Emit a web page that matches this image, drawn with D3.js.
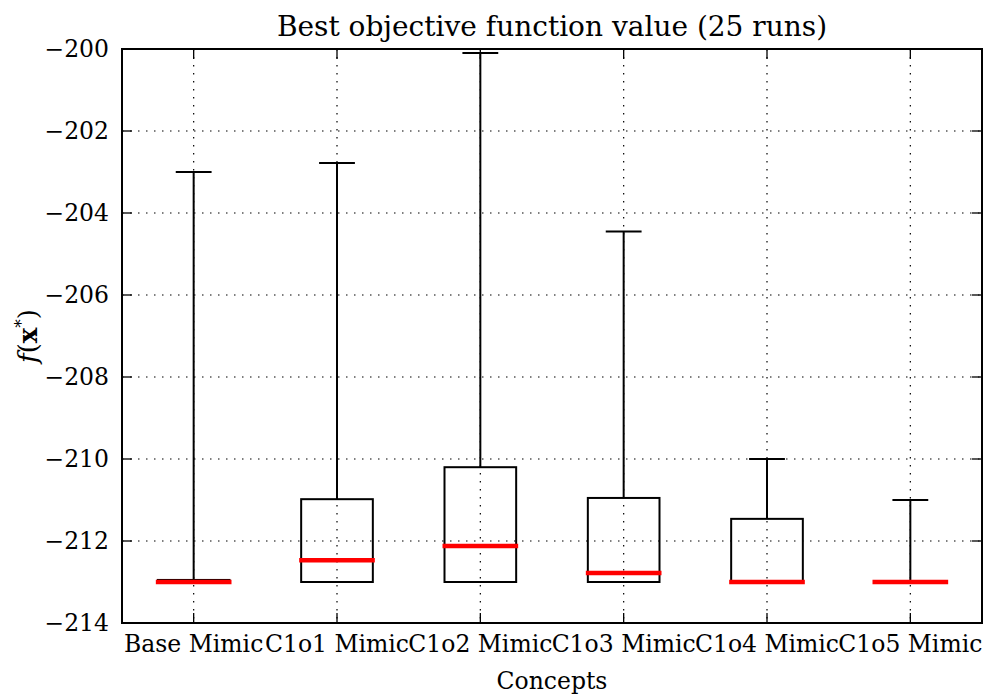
<!DOCTYPE html>
<html><head><meta charset="utf-8">
<script src="https://cdn.jsdelivr.net/npm/d3@7"></script>
<style>body{margin:0;background:#fff}svg{display:block}</style>
</head><body>
<svg id="c" width="985" height="696"></svg>
<script>
const categories = ["Base Mimic","C1o1 Mimic","C1o2 Mimic","C1o3 Mimic","C1o4 Mimic","C1o5 Mimic"];
const whiskerLow  = [-213.0, -213.0, -213.0, -213.0, -213.0, -213.0];
const q1          = [-213.0, -213.0, -213.0, -213.0, -213.0, -213.0];
const median      = [-213.0, -212.47, -212.12, -212.78, -213.0, -213.0];
const q3          = [-212.95, -210.98, -210.2, -210.95, -211.46, -213.0];
const whiskerHigh = [-203.0, -202.78, -200.1, -204.45, -210.0, -211.0];
const yTicks = [-214,-212,-210,-208,-206,-204,-202,-200];

const svg = d3.select("#c");
const m = {l:122, r:982, t:49, b:623};
const font = "'DejaVu Serif', 'Liberation Serif', serif";

const x = d3.scaleLinear().domain([0.5, categories.length + 0.5]).range([m.l, m.r]);
const y = d3.scaleLinear().domain([-214, -200]).range([m.b, m.t]);
const step = x(2) - x(1);
const boxW = step * 0.5, capW = step * 0.25;
const idx = categories.map((d,i)=>i+1);

// grid
const g = svg.append("g");
g.selectAll(".gy").data(yTicks).join("line")
  .attr("x1", m.l).attr("x2", m.r).attr("y1", d=>y(d)).attr("y2", d=>y(d))
  .attr("stroke","#000").attr("stroke-width",1.2).attr("stroke-dasharray","1.5,6.5");
g.selectAll(".gx").data(idx).join("line")
  .attr("x1", d=>x(d)).attr("x2", d=>x(d)).attr("y1", m.t).attr("y2", m.b)
  .attr("stroke","#000").attr("stroke-width",1.2).attr("stroke-dasharray","1.5,6.5");

// boxes
const data = categories.map((c,i)=>({c, i:i+1, lo:whiskerLow[i], q1:q1[i], med:median[i], q3:q3[i], hi:whiskerHigh[i]}));
const bx = svg.append("g");
data.forEach(d=>{
  const cx = x(d.i);
  bx.append("line").attr("x1",cx).attr("x2",cx).attr("y1",y(d.q3)).attr("y2",y(d.hi)).attr("stroke","#000").attr("stroke-width",2);
  bx.append("line").attr("x1",cx-capW/2).attr("x2",cx+capW/2).attr("y1",y(d.hi)).attr("y2",y(d.hi)).attr("stroke","#000").attr("stroke-width",2);
  bx.append("line").attr("x1",cx).attr("x2",cx).attr("y1",y(d.q1)).attr("y2",y(d.lo)).attr("stroke","#000").attr("stroke-width",2);
  bx.append("line").attr("x1",cx-capW/2).attr("x2",cx+capW/2).attr("y1",y(d.lo)).attr("y2",y(d.lo)).attr("stroke","#000").attr("stroke-width",2);
  if (d.q3 > d.q1) {
    bx.append("rect").attr("x",cx-boxW/2).attr("width",boxW).attr("y",y(d.q3)).attr("height",y(d.q1)-y(d.q3))
      .attr("fill","none").attr("stroke","#000").attr("stroke-width",2);
  }
  bx.append("line").attr("x1",cx-boxW/2-2).attr("x2",cx+boxW/2+2).attr("y1",y(d.med)).attr("y2",y(d.med))
    .attr("stroke","#ff0000").attr("stroke-width",4.5);
});

// frame
svg.append("rect").attr("x",m.l).attr("y",m.t).attr("width",m.r-m.l).attr("height",m.b-m.t)
  .attr("fill","none").attr("stroke","#000").attr("stroke-width",2);

// ticks (inward, all sides)
const tl = 10;
const tk = svg.append("g").attr("stroke","#000").attr("stroke-width",1.3);
yTicks.forEach(v=>{
  tk.append("line").attr("x1",m.l).attr("x2",m.l+tl).attr("y1",y(v)).attr("y2",y(v));
  tk.append("line").attr("x1",m.r).attr("x2",m.r-tl).attr("y1",y(v)).attr("y2",y(v));
});
idx.forEach(v=>{
  tk.append("line").attr("x1",x(v)).attr("x2",x(v)).attr("y1",m.b).attr("y2",m.b-tl);
  tk.append("line").attr("x1",x(v)).attr("x2",x(v)).attr("y1",m.t).attr("y2",m.t+tl);
});

// tick labels
svg.append("g").selectAll("text").data(yTicks).join("text")
  .attr("x", m.l-13).attr("y", d=>y(d)).attr("dy","0.36em").attr("text-anchor","end")
  .attr("font-family",font).attr("font-size",23.5).text(d=>"\u2212"+Math.abs(d));
svg.append("g").selectAll("text").data(data).join("text")
  .attr("x", d=>x(d.i)).attr("y", 652).attr("text-anchor","middle")
  .attr("font-family",font).attr("font-size",23.5).text(d=>d.c);

// title
svg.append("text").attr("x",(m.l+m.r)/2).attr("y",36).attr("text-anchor","middle")
  .attr("font-family",font).attr("font-size",28).text("Best objective function value (25 runs)");
// x label
svg.append("text").attr("x",(m.l+m.r)/2).attr("y",689).attr("text-anchor","middle")
  .attr("font-family",font).attr("font-size",23.5).text("Concepts");
// y label
const yl = svg.append("text").attr("transform",`translate(37,${(m.t+m.b)/2}) rotate(-90)`).attr("text-anchor","middle")
  .attr("font-family",font).attr("font-size",26);
yl.append("tspan").attr("font-style","italic").text("f");
yl.append("tspan").text("(");
yl.append("tspan").attr("font-weight","bold").text("x");
yl.append("tspan").attr("dy",-10).attr("font-size",17).text("*");
yl.append("tspan").attr("dy",10).text(")");
</script>
</body></html>
